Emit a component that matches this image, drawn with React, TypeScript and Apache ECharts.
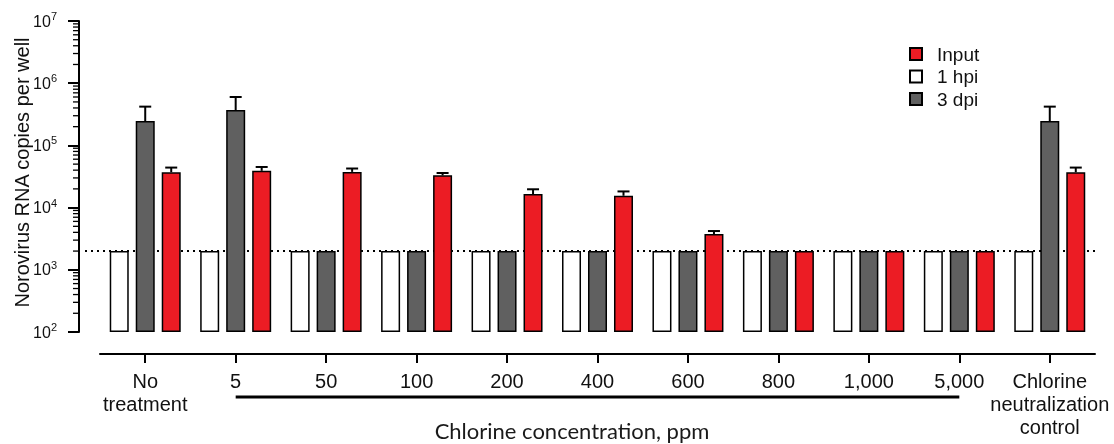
import React, { useEffect, useRef } from 'react';
import * as echarts from 'echarts';

const categories = ['No\ntreatment', '5', '50', '100', '200', '400', '600', '800', '1,000', '5,000', 'Chlorine\nneutralization\ncontrol'];
const hpi1 = [2000, 2000, 2000, 2000, 2000, 2000, 2000, 2000, 2000, 2000, 2000];
const dpi3 = [246000, 370000, 2000, 2000, 2000, 2000, 2000, 2000, 2000, 2000, 246000];
const dpi3ErrTop = [420000, 600000, null, null, null, null, null, null, null, null, 420000];
const input = [37000, 39000, 37500, 33000, 16500, 15500, 3750, 2000, 2000, 2000, 37000];
const inputErrTop = [44000, 45000, 42500, 36000, 19700, 18200, 4200, null, null, null, 44000];
const detectionLimit = 2000;
const yMin = 100;
const yMax = 10000000;
const yMinorTicks: number[] = [];
for (let d = 100; d < yMax; d *= 10) {
  for (let k = 2; k <= 9; k++) yMinorTicks.push(k * d);
}

const FONT = '"Liberation Sans", Arial, sans-serif';
const BAR_W = 19;
const BAR_STEP = 26;
const Y_OFFSET = 21;

function errorSeries(values: number[], tops: (number | null)[], offset: number) {
  const data: number[][] = [];
  tops.forEach((t, i) => {
    if (t != null) data.push([i, values[i], t]);
  });
  return {
    type: 'custom',
    clip: false,
    z: 5,
    silent: true,
    encode: { x: 0, y: [1, 2] },
    data,
    renderItem: (params: any, api: any) => {
      const i = api.value(0);
      const base = api.coord([i, api.value(1)]);
      const top = api.coord([i, api.value(2)]);
      const x = base[0] + offset;
      const cap = 6;
      return {
        type: 'group',
        children: [
          { type: 'line', shape: { x1: x, y1: base[1], x2: x, y2: top[1] }, style: { stroke: '#000', lineWidth: 2 } },
          { type: 'line', shape: { x1: x - cap, y1: top[1], x2: x + cap, y2: top[1] }, style: { stroke: '#000', lineWidth: 2 } },
        ],
      };
    },
  };
}

export default function App() {
  const ref = useRef<HTMLDivElement>(null);
  useEffect(() => {
    if (!ref.current) return;
    const chart = echarts.init(ref.current, undefined, { renderer: 'svg' });
    const barCommon = {
      type: 'bar',
      barWidth: BAR_W,
      barGap: ((BAR_STEP - BAR_W) / BAR_W * 100).toFixed(1) + '%',
      clip: false,
      z: 3,
    };
    chart.setOption({
      animation: false,
      grid: { left: 100, right: 19, top: 21, bottom: 112, containLabel: false, outerBoundsMode: 'none' },
      legend: {
        data: ['Input', '1 hpi', '3 dpi'],
        orient: 'vertical',
        left: 904,
        top: 38,
        itemWidth: 12,
        itemHeight: 12,
        itemGap: 0.5,
        icon: 'rect',
        textStyle: { fontSize: 19, fontFamily: FONT, color: '#111', lineHeight: 22, padding: [0, 0, 0, 10] },
      },
      xAxis: {
        type: 'category',
        data: categories,
        offset: 22,
        axisLine: { show: true, lineStyle: { color: '#000', width: 2 } },
        axisTick: { show: true, alignWithLabel: true, length: 9, lineStyle: { color: '#000', width: 2 } },
        axisLabel: { interval: 0, margin: 15, fontSize: 20, lineHeight: 23, color: '#111', fontFamily: FONT },
        splitLine: { show: false },
      },
      yAxis: {
        type: 'log',
        logBase: 10,
        min: yMin,
        max: yMax,
        startValue: yMin,
        position: 'left',
        offset: Y_OFFSET,
        axisLine: { show: true, lineStyle: { color: '#000', width: 2 } },
        axisTick: { show: true, length: 11, lineStyle: { color: '#000', width: 2 } },
        minorTick: { show: false },
        splitLine: { show: false },
        axisLabel: {
          margin: 22,
          color: '#111',
          fontSize: 16,
          fontFamily: FONT,
          formatter: (v: number) => '10{sup|' + Math.round(Math.log10(v)) + '}',
          rich: { sup: { fontSize: 11, fontFamily: FONT, color: '#111', padding: [0, 0, 10, 0] } },
        },
        name: 'Norovirus RNA copies per well',
        nameLocation: 'middle',
        nameGap: 47,
        nameMoveOverlap: false,
        nameTextStyle: { fontSize: 20, fontFamily: FONT, color: '#111', padding: [0, 0, 0, 8] },
      },
      series: [
        {
          type: 'custom',
          clip: false,
          z: 1,
          silent: true,
          data: [[0, detectionLimit]],
          renderItem: (params: any, api: any) => {
            const p = api.coord([0, api.value(1)]);
            const cs = params.coordSys;
            return {
              type: 'line',
              shape: { x1: cs.x - 15, y1: p[1], x2: cs.x + cs.width, y2: p[1] },
              style: { stroke: '#000', lineWidth: 2, lineDash: [2, 4] },
            };
          },
        },
        {
          type: 'custom',
          clip: false,
          z: 6,
          silent: true,
          data: yMinorTicks.map((v) => [0, v]),
          renderItem: (params: any, api: any) => {
            const p = api.coord([0, api.value(1)]);
            const ax = params.coordSys.x - Y_OFFSET;
            return {
              type: 'line',
              shape: { x1: ax - 6, y1: p[1], x2: ax, y2: p[1] },
              style: { stroke: '#000', lineWidth: 1.3 },
            };
          },
        },
        { ...barCommon, name: '1 hpi', data: hpi1, itemStyle: { color: '#ffffff', borderColor: '#000', borderWidth: 1.5 } },
        { ...barCommon, name: '3 dpi', data: dpi3, itemStyle: { color: '#606060', borderColor: '#000', borderWidth: 1.5 } },
        { ...barCommon, name: 'Input', data: input, itemStyle: { color: '#ec1c24', borderColor: '#000', borderWidth: 1.5 } },
        errorSeries(dpi3, dpi3ErrTop, 0),
        errorSeries(input, inputErrTop, BAR_STEP),
      ],
    });
    const x5 = chart.convertToPixel({ xAxisIndex: 0 }, 1) as number;
    const x5000 = chart.convertToPixel({ xAxisIndex: 0 }, 9) as number;
    chart.setOption({
      graphic: [
        { type: 'rect', shape: { x: x5, y: 395.5, width: x5000 - x5, height: 3 }, style: { fill: '#000' } },
        {
          type: 'text',
          x: 572,
          y: 430,
          style: { text: 'Chlorine concentration, ppm', fontSize: 22, fontFamily: 'Lato, sans-serif', fill: '#1a1a1a', textAlign: 'center', textVerticalAlign: 'middle' },
        },
      ],
    });
    return () => chart.dispose();
  }, []);
  return <div ref={ref} style={{ position: 'fixed', left: 0, top: 0, width: 1114, height: 444 }} />;
}
